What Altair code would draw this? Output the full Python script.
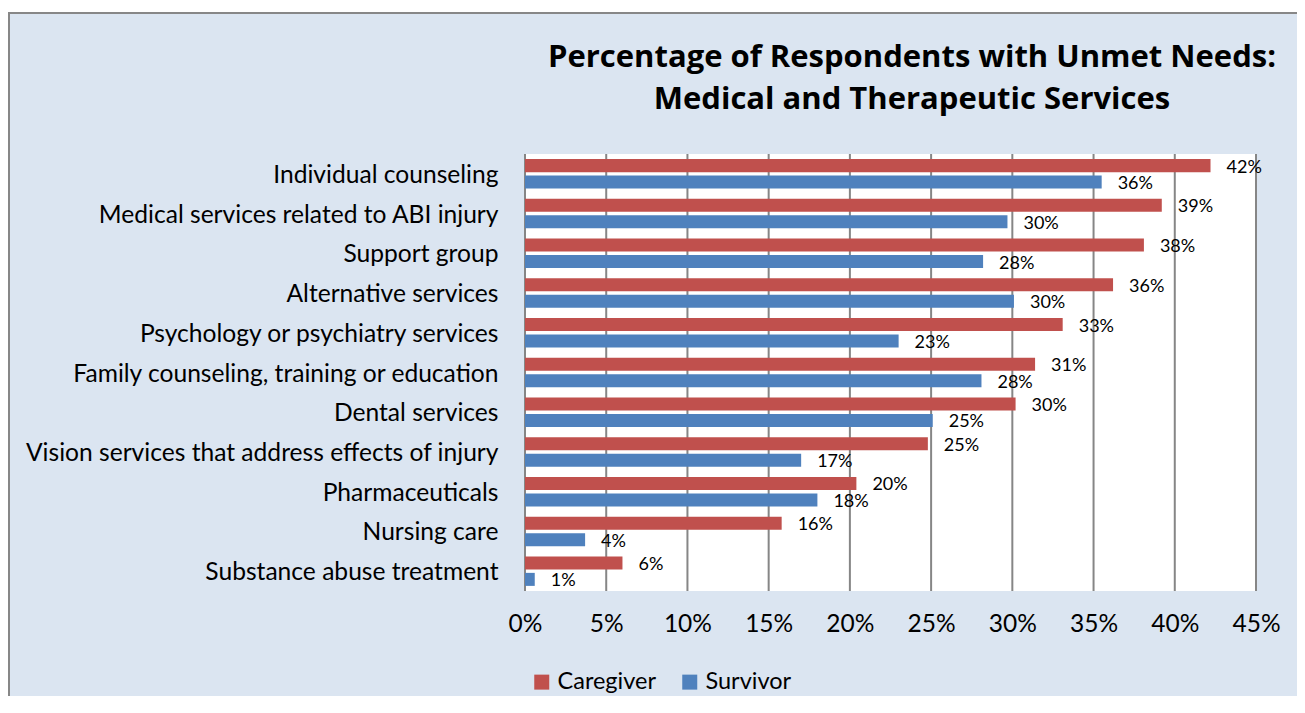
import altair as alt
import pandas as pd

categories = [
    "Individual counseling",
    "Medical services related to ABI injury",
    "Support group",
    "Alternative services",
    "Psychology or psychiatry services",
    "Family counseling, training or education",
    "Dental services",
    "Vision services that address effects of injury",
    "Pharmaceuticals",
    "Nursing care",
    "Substance abuse treatment",
]
series = ["Caregiver", "Survivor"]
caregiver = [42.2, 39.2, 38.1, 36.2, 33.1, 31.4, 30.2, 24.8, 20.4, 15.8, 6.0]
survivor = [35.5, 29.7, 28.2, 30.1, 23.0, 28.1, 25.1, 17.0, 18.0, 3.7, 0.6]
caregiver_labels = ["42%", "39%", "38%", "36%", "33%", "31%", "30%", "25%", "20%", "16%", "6%"]
survivor_labels = ["36%", "30%", "28%", "30%", "23%", "28%", "25%", "17%", "18%", "4%", "1%"]
x_ticks = [0, 5, 10, 15, 20, 25, 30, 35, 40, 45]
colors = ["#C0504D", "#4F81BD"]
title_lines = ["Percentage of Respondents with Unmet Needs:", "Medical and Therapeutic Services"]

rows = []
for i, c in enumerate(categories):
    rows.append({"cat": c, "series": series[0], "value": caregiver[i], "label": caregiver_labels[i]})
    rows.append({"cat": c, "series": series[1], "value": survivor[i], "label": survivor_labels[i]})
df = pd.DataFrame(rows)
ticks_df = pd.DataFrame({"t": x_ticks})
one = pd.DataFrame({"a": [0]})

FONT = "Lato"
TFONT = "Open Sans"
W, H = 731, 437

xscale = alt.Scale(domain=[0, 45], nice=False, zero=True)
yscale = alt.Scale(domain=categories, paddingInner=0, paddingOuter=0)
yoff_scale = alt.Scale(domain=series, paddingInner=0.21, paddingOuter=0.31)

frame = alt.Chart(one).mark_rect(fill="#DBE5F1", stroke="#878787", strokeWidth=2).encode(
    x=alt.value(-516), x2=alt.value(800), y=alt.value(-141), y2=alt.value(580)
)
plotbg = alt.Chart(one).mark_rect(fill="white").encode(
    x=alt.value(0), x2=alt.value(W), y=alt.value(0), y2=alt.value(H)
)
title = alt.Chart(one).mark_text(
    text=title_lines, font=TFONT, fontSize=31, fontWeight="bold", color="black",
    align="center", baseline="alphabetic", lineHeight=42
).encode(x=alt.value(387), y=alt.value(-87))

grid = alt.Chart(ticks_df).mark_rule(color="#868686", strokeWidth=2).encode(
    x=alt.X("t:Q", scale=xscale,
            axis=alt.Axis(values=x_ticks, labelExpr="datum.value + '%'", grid=False, domain=False,
                          ticks=False, labelFont=FONT, labelFontSize=24.5, labelColor="black",
                          labelPadding=21, labelFlush=False, labelOverlap=False, title=None,
                          zindex=1))
)
bars = alt.Chart(df).mark_bar().encode(
    y=alt.Y("cat:N", scale=yscale, sort=categories,
            axis=alt.Axis(domain=False, ticks=False, labelFont=FONT, labelFontSize=24.6,
                          labelColor="black", labelPadding=27, labelLimit=700, labelOffset=2,
                          title=None, zindex=1)),
    yOffset=alt.YOffset("series:N", scale=yoff_scale, sort=series),
    x=alt.X("value:Q", scale=xscale),
    color=alt.Color("series:N", scale=alt.Scale(domain=series, range=colors),
                    legend=alt.Legend(orient="none", legendX=5, legendY=516, direction="horizontal",
                                      title=None, symbolType="square", symbolSize=225,
                                      symbolStrokeWidth=0, labelFont=FONT, labelFontSize=23.5,
                                      labelColor="black", labelOffset=4, columnPadding=22)),
)
labels = alt.Chart(df).mark_text(align="left", baseline="middle", dx=16, dy=2, font=FONT,
                                 fontSize=18, color="black").encode(
    y=alt.Y("cat:N", scale=yscale, sort=categories),
    yOffset=alt.YOffset("series:N", scale=yoff_scale, sort=series),
    x=alt.X("value:Q", scale=xscale),
    text="label:N",
)

chart = alt.layer(frame, plotbg, title, grid, bars, labels).properties(
    width=W, height=H,
    autosize=alt.AutoSizeParams(type="none"),
    padding={"left": 517, "top": 146, "right": 41, "bottom": 105},
    background="white",
).configure_view(stroke=None)

chart.save("out.html", embed_options={"renderer": "svg", "actions": False})
